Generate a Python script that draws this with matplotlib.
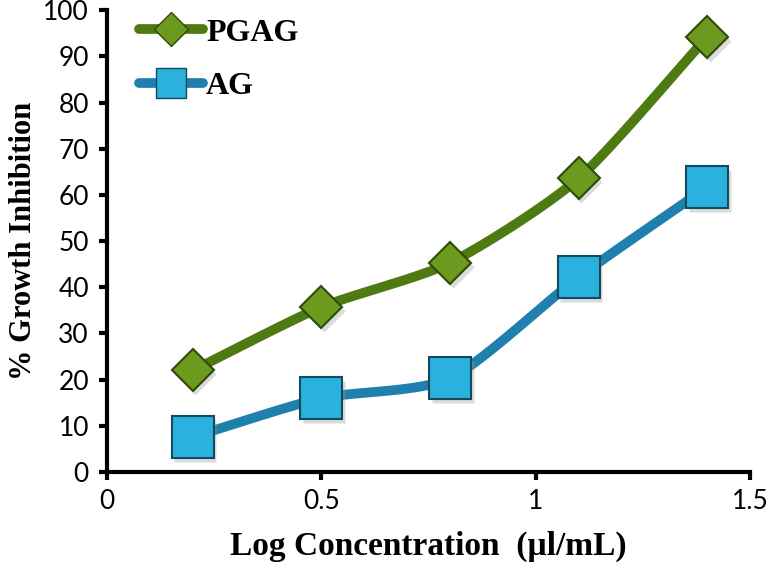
import numpy as np
import matplotlib
matplotlib.use("Agg")
from matplotlib import pyplot as plt
from matplotlib.lines import Line2D

# data
log_conc = [0.2, 0.5, 0.8, 1.1, 1.4]
pgag = [22.0, 35.7, 45.3, 63.6, 94.2]
ag = [7.6, 16.0, 20.3, 42.2, 61.7]

x_ticks = [0, 0.5, 1, 1.5]
x_tick_labels = ["0", "0.5", "1", "1.5"]
y_ticks = list(range(0, 101, 10))

green_line = "#4e7a12"
green_face = "#6b9a1e"
green_edge = "#2e4a08"
blue_line = "#1f7fad"
blue_face = "#2ab1dd"
blue_edge = "#124a5e"


#smooth curve through the points, like the spreadsheet "smoothed line"
def smooth(xs, ys, n=30, k=0.7):
    p = np.column_stack([xs, ys]).astype(float)
    p = np.vstack([p[0] - (p[1] - p[0]), p, p[-1] + (p[-1] - p[-2])])
    out = []
    for i in range(1, len(p) - 2):
        p0, p1, p2, p3 = p[i - 1], p[i], p[i + 1], p[i + 2]
        # cubic bezier with damped catmull-rom tangents
        c1 = p1 + k * (p2 - p0) / 6
        c2 = p2 - k * (p3 - p1) / 6
        t = np.linspace(0, 1, n)[:, None]
        seg = ((1 - t) ** 3 * p1 + 3 * (1 - t) ** 2 * t * c1
               + 3 * (1 - t) * t ** 2 * c2 + t ** 3 * p2)
        out.append(seg)
    c = np.vstack(out)
    return c[:, 0], c[:, 1]


fig = plt.figure(figsize=(7.67, 5.67), dpi=100)
ax = fig.add_axes([0.1395, 0.1675, 0.8385, 0.8145])

tick_font = ["Lato", "DejaVu Sans"]
serif = ["Liberation Serif", "DejaVu Serif"]

for ys, lc, fc, ec, mk, ms in [(pgag, green_line, green_face, green_edge, "D", 21),
                               (ag, blue_line, blue_face, blue_edge, "s", 30)]:
    sx, sy = smooth(log_conc, ys)
    ax.plot(sx, sy, color=lc, lw=7, solid_capstyle="round", zorder=2)
    # soft shadow under the markers
    ax.plot(np.array(log_conc) + 0.006, np.array(ys) - 0.8, ls="none", marker=mk,
            ms=ms, color="#999999", alpha=0.35, mec="none", zorder=3)
    ax.plot(log_conc, ys, ls="none", marker=mk, ms=ms, mfc=fc, mec=ec,
            mew=1.5, zorder=4)

ax.set_xlim(0, 1.5)
ax.set_ylim(0, 100)
ax.set_xticks(x_ticks)
ax.set_xticklabels(x_tick_labels)
ax.set_yticks(y_ticks)

for s in ["top", "right"]:
    ax.spines[s].set_visible(False)
for s in ["left", "bottom"]:
    ax.spines[s].set_linewidth(3)
ax.tick_params(width=3, length=6)
ax.tick_params(axis="y", pad=7)
ax.tick_params(axis="x", pad=6)
for lab in ax.get_xticklabels() + ax.get_yticklabels():
    lab.set_family(tick_font)
    lab.set_fontsize(19)

ax.set_ylabel("% Growth Inhibition", family=serif, fontweight="bold",
              fontsize=22, labelpad=4)
ax.set_xlabel("Log Concentration  (\u00b5l/mL)", family=serif,
              fontweight="bold", fontsize=24, labelpad=12)

handles = [Line2D([], [], color=green_line, lw=7, marker="D", ms=17,
                  mfc=green_face, mec=green_edge, solid_capstyle="round"),
           Line2D([], [], color=blue_line, lw=7, marker="s", ms=21,
                  mfc=blue_face, mec=blue_edge, solid_capstyle="round")]
leg = ax.legend(handles, ["PGAG", "AG"], loc="upper left",
                bbox_to_anchor=(0.005, 1.045), frameon=False,
                handlelength=2.0, handletextpad=0.1, labelspacing=0.75,
                prop={"family": serif, "weight": "bold", "size": 23})

fig.savefig("out.png", dpi=100)
